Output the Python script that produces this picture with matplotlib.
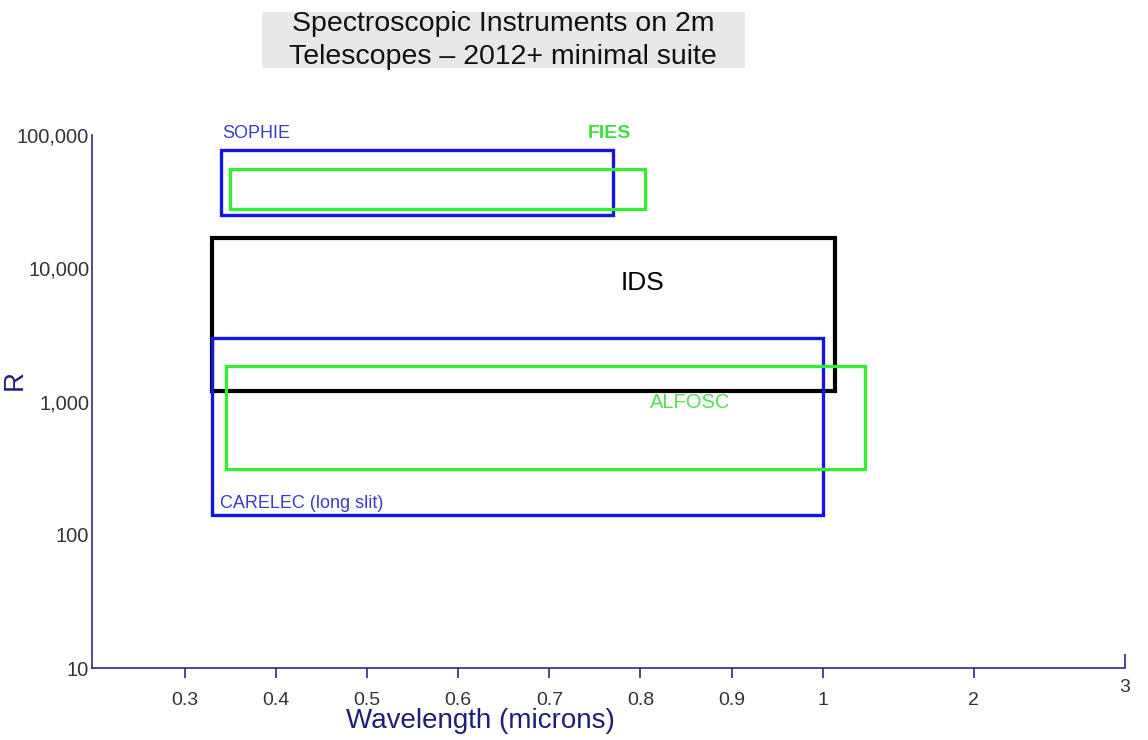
import numpy as np
import matplotlib
matplotlib.use('Agg')
import matplotlib.pyplot as plt
from matplotlib.patches import Rectangle
from matplotlib.ticker import FixedLocator, FixedFormatter

plt.rcParams['font.family'] = ['Liberation Sans', 'DejaVu Sans']

# instrument coverage (wavelength in microns, resolving power R)
instruments = ['SOPHIE', 'FIES', 'IDS', 'CARELEC (long slit)', 'ALFOSC']
wl_min = [0.34, 0.35, 0.33, 0.33, 0.345]
wl_max = [0.77, 0.805, 1.08, 1.0, 1.28]
r_min = [25000, 28000, 1200, 140, 310]
r_max = [77000, 56000, 17000, 3000, 1850]
box_colors = ['#1414e6', '#33ee33', '#000000', '#1414e6', '#33ee33']
box_widths = [2.4, 2.4, 3.0, 2.4, 2.4]

x_ticks = [0.3, 0.4, 0.5, 0.6, 0.7, 0.8, 0.9, 1, 2]
x_tick_labels = ['0.3', '0.4', '0.5', '0.6', '0.7', '0.8', '0.9', '1', '2']
y_ticks = [10, 100, 1000, 10000, 100000]
y_tick_labels = ['10', '100', '1,000', '10,000', '100,000']

AXIS_COL = '#2b2b80'


# axis is linear below 1 micron and compressed above it
def fwd(x):
    x = np.asarray(x, dtype=float)
    return np.where(x <= 1, x, 1 + (x - 1) * 151.0 / 910.0)


def inv(x):
    x = np.asarray(x, dtype=float)
    return np.where(x <= 1, x, 1 + (x - 1) * 910.0 / 151.0)


fig = plt.figure(figsize=(11.48, 7.4), dpi=100)
ax = fig.add_axes([92 / 1148, 1 - 668 / 740, 1033 / 1148, 533 / 740])
ax.set_xscale('function', functions=(fwd, inv))
ax.set_yscale('log')
ax.set_xlim(0.198, 3.0)
ax.set_ylim(10, 100000)

for i in range(len(instruments)):
    rect = Rectangle((wl_min[i], r_min[i]), wl_max[i] - wl_min[i], r_max[i] - r_min[i],
                     fill=False, edgecolor=box_colors[i], linewidth=box_widths[i],
                     joinstyle='miter')
    ax.add_patch(rect)

ax.text(0.341, 103500, 'SOPHIE', color='#3c3cc8', fontsize=13, va='center', ha='left', clip_on=False)
ax.text(0.742, 103500, 'FIES', color='#44dd44', fontsize=14, fontweight='bold', va='center', ha='left', clip_on=False)
ax.text(0.802, 7750, 'IDS', color='black', fontsize=19, va='center', ha='center')
ax.text(0.855, 975, 'ALFOSC', color='#55dd55', fontsize=14.5, va='center', ha='center')
ax.text(0.338, 173, 'CARELEC (long slit)', color='#3c3cc8', fontsize=13, va='center', ha='left')

for s in ['top', 'right']:
    ax.spines[s].set_visible(False)
for s in ['left', 'bottom']:
    ax.spines[s].set_color(AXIS_COL)
    ax.spines[s].set_linewidth(1.2)

ax.xaxis.set_major_locator(FixedLocator(x_ticks))
ax.xaxis.set_major_formatter(FixedFormatter(x_tick_labels))
ax.xaxis.set_minor_locator(FixedLocator([3]))
ax.xaxis.set_minor_formatter(FixedFormatter(['3']))
ax.tick_params(axis='x', which='major', direction='out', length=7, width=1.2, color=AXIS_COL,
               labelsize=14, labelcolor='#333333', pad=10)
ax.tick_params(axis='x', which='minor', direction='in', length=10, width=1.2, color=AXIS_COL,
               labelsize=14, labelcolor='#333333', pad=8)

ax.yaxis.set_major_locator(FixedLocator(y_ticks))
ax.yaxis.set_major_formatter(FixedFormatter(y_tick_labels))
ax.yaxis.set_minor_locator(FixedLocator([]))
ax.tick_params(axis='y', which='major', length=0, labelsize=14.5, labelcolor='#333333', pad=2)

ax.set_xlabel('Wavelength (microns)', fontsize=20, color='#1f1f7a')
ax.xaxis.set_label_coords(0.376, -0.075)
ax.set_ylabel('R', fontsize=20, color='#1f1f7a')
ax.yaxis.set_label_coords(-0.062, 0.54)

# title on grey band
fig.patches.append(Rectangle((262 / 1148, 1 - 68 / 740), 483 / 1148, 56 / 740,
                             transform=fig.transFigure, facecolor='#e8e8e8', edgecolor='none'))
fig.text(503 / 1148, 1 - 24 / 740, 'Spectroscopic Instruments on 2m', fontsize=20.5,
         ha='center', va='center', color='#111111')
fig.text(503 / 1148, 1 - 57 / 740, 'Telescopes \u2013 2012+ minimal suite', fontsize=20.5,
         ha='center', va='center', color='#111111')

fig.savefig('out.png', dpi=100)
